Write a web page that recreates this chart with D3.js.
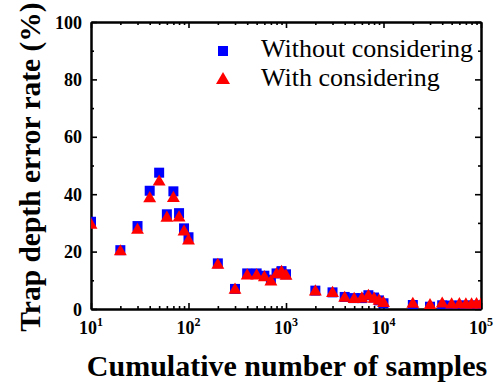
<!DOCTYPE html>
<html>
<head>
<meta charset="utf-8">
<script src="https://cdn.jsdelivr.net/npm/d3@7"></script>
<style>
  body { margin: 0; background: #fff; }
  svg { display: block; }
  svg text { font-family: "Liberation Serif", "Times New Roman", serif !important; fill: #000; }
</style>
</head>
<body>
<script>
// sample counts (x) and the two series (%)
let samples = [10, 20, 30, 40, 50, 60, 70, 80, 90, 100,
               200, 300, 400, 500, 600, 700, 800, 900, 1000,
               2000, 3000, 4000, 5000, 6000, 7000, 8000, 9000, 10000,
               20000, 30000, 40000, 50000, 60000, 70000, 80000, 90000, 100000];

let withoutConsidering = [30.4, 20.5, 28.9, 41.2, 47.5, 33.0, 41.0, 33.4, 28.1, 25.0,
                          15.9, 7.0, 12.4, 12.4, 11.6, 10.2, 12.4, 13.2, 12.1,
                          6.4, 5.8, 4.2, 3.8, 3.8, 4.8, 4.0, 3.0, 2.0,
                          1.4, 0.8, 1.3, 1.2, 1.2, 1.2, 1.2, 1.2, 1.2];

let withConsidering = [29.3, 20.0, 27.5, 38.5, 44.3, 31.7, 38.6, 31.8, 26.9, 23.8,
                       15.3, 6.6, 11.6, 11.6, 11.0, 9.5, 12.0, 12.8, 11.5,
                       6.0, 5.5, 3.8, 3.4, 3.6, 4.5, 3.5, 2.8, 2.0,
                       1.7, 1.2, 1.8, 1.5, 1.6, 1.5, 1.5, 1.6, 1.5];

let seriesNames = ['Without considering', 'With considering'];

let xMajor = [10, 100, 1000, 10000, 100000];
let yMajor = [0, 20, 40, 60, 80, 100];
let yMinor = [10, 30, 50, 70, 90];

let width = 501, height = 385;
let plotLeft = 91, plotRight = 481, plotTop = 22, plotBottom = 309;

// minor ticks on the log axis: 2..9 in each decade
let xMinor = [];
xMajor.slice(0, -1).forEach(function(d) {
  for (let k = 2; k <= 9; k++) xMinor.push(d * k);
});

let x = d3.scaleLog().domain([10, 100000]).range([plotLeft, plotRight]);
let y = d3.scaleLinear().domain([0, 100]).range([plotBottom, plotTop]);

let svg = d3.select('body')
  .append('svg')
  .attr('width', width)
  .attr('height', height);

svg.append('clipPath')
   .attr('id', 'plot')
   .append('rect')
   .attr('x', plotLeft).attr('y', plotTop)
   .attr('width', plotRight - plotLeft).attr('height', plotBottom - plotTop);

// axes, ticks point inside on all four sides
function styleAxis(g) {
  g.selectAll('.domain').attr('stroke', '#000').attr('stroke-width', 2);
  g.selectAll('.tick line').attr('stroke', '#000').attr('stroke-width', 1.6);
}

svg.append('g')
   .attr('transform', 'translate(0,' + plotBottom + ')')
   .call(d3.axisBottom(x).tickValues(xMajor).tickSize(-6).tickSizeOuter(0).tickFormat(''))
   .call(styleAxis);
svg.append('g')
   .attr('transform', 'translate(0,' + plotBottom + ')')
   .call(d3.axisBottom(x).tickValues(xMinor).tickSize(-3).tickSizeOuter(0).tickFormat(''))
   .call(styleAxis);
svg.append('g')
   .attr('transform', 'translate(0,' + plotTop + ')')
   .call(d3.axisTop(x).tickValues(xMajor).tickSize(-6).tickSizeOuter(0).tickFormat(''))
   .call(styleAxis);
svg.append('g')
   .attr('transform', 'translate(0,' + plotTop + ')')
   .call(d3.axisTop(x).tickValues(xMinor).tickSize(-3).tickSizeOuter(0).tickFormat(''))
   .call(styleAxis);

svg.append('g')
   .attr('transform', 'translate(' + plotLeft + ',0)')
   .call(d3.axisLeft(y).tickValues(yMajor).tickSize(-6).tickSizeOuter(0).tickPadding(9).tickFormat(d3.format('d')))
   .call(styleAxis)
   .call(function(g) {
     g.selectAll('text')
      .attr('font-size', 18).attr('font-weight', 'bold')
      .attr('dy', '0.34em');
   });
svg.append('g')
   .attr('transform', 'translate(' + plotLeft + ',0)')
   .call(d3.axisLeft(y).tickValues(yMinor).tickSize(-3).tickSizeOuter(0).tickFormat(''))
   .call(styleAxis);
svg.append('g')
   .attr('transform', 'translate(' + plotRight + ',0)')
   .call(d3.axisRight(y).tickValues(yMajor).tickSize(-6).tickSizeOuter(0).tickFormat(''))
   .call(styleAxis);
svg.append('g')
   .attr('transform', 'translate(' + plotRight + ',0)')
   .call(d3.axisRight(y).tickValues(yMinor).tickSize(-3).tickSizeOuter(0).tickFormat(''))
   .call(styleAxis);

// x tick labels as 10 with a superscript exponent
let xLabels = svg.append('g').selectAll('text')
  .data(xMajor)
  .enter().append('text')
  .attr('x', function(d) { return x(d); })
  .attr('y', plotBottom + 25)
  .attr('text-anchor', 'middle')
  .attr('font-size', 18)
  .attr('font-weight', 'bold');
xLabels.append('tspan').text('10');
xLabels.append('tspan')
  .attr('font-size', 12)
  .attr('dy', -8)
  .text(function(d) { return Math.round(Math.log10(d)); });

// markers, squares first then triangles on top
let square = d3.symbol(d3.symbolSquare, 100);
let triangle = d3.symbol(d3.symbolTriangle, 72);

let marks = svg.append('g').attr('clip-path', 'url(#plot)');

marks.selectAll('path.sq')
  .data(samples)
  .enter().append('path')
  .attr('class', 'sq')
  .attr('d', square)
  .attr('fill', '#0000ff')
  .attr('transform', function(d, i) { return 'translate(' + x(d) + ',' + y(withoutConsidering[i]) + ')'; });

marks.selectAll('path.tri')
  .data(samples)
  .enter().append('path')
  .attr('class', 'tri')
  .attr('d', triangle)
  .attr('fill', '#ff0000')
  .attr('transform', function(d, i) { return 'translate(' + x(d) + ',' + y(withConsidering[i]) + ')'; });

// legend
let legend = svg.append('g');
legend.append('path')
  .attr('d', square)
  .attr('fill', '#0000ff')
  .attr('transform', 'translate(223,51)');
legend.append('path')
  .attr('d', d3.symbol(d3.symbolTriangle, 85))
  .attr('fill', '#ff0000')
  .attr('transform', 'translate(223,80)');
legend.selectAll('text')
  .data(seriesNames)
  .enter().append('text')
  .attr('x', 261)
  .attr('y', function(d, i) { return 57 + i * 29; })
  .attr('font-size', 26)
  .text(function(d) { return d; });

// axis titles
svg.append('text')
   .attr('x', (plotLeft + plotRight) / 2 + 1)
   .attr('y', 376)
   .attr('text-anchor', 'middle')
   .attr('font-size', 30)
   .attr('font-weight', 'bold')
   .text('Cumulative number of samples');

svg.append('text')
   .attr('transform', 'translate(40,167) rotate(-90)')
   .attr('text-anchor', 'middle')
   .attr('font-size', 29.5)
   .attr('font-weight', 'bold')
   .text('Trap depth error rate (%)');
</script>
</body>
</html>
